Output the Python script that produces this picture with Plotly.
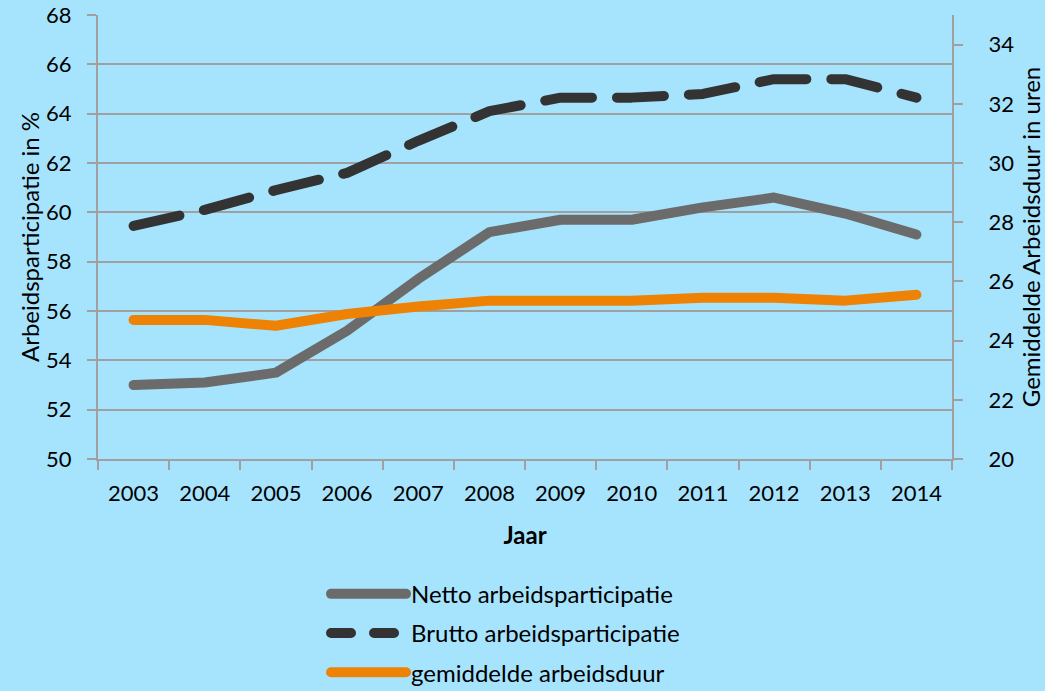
import plotly.graph_objects as go

years = ["2003", "2004", "2005", "2006", "2007", "2008", "2009", "2010", "2011", "2012", "2013", "2014"]
netto = [53.0, 53.1, 53.5, 55.2, 57.3, 59.2, 59.7, 59.7, 60.2, 60.6, 59.95, 59.1]
brutto = [59.45, 60.1, 60.9, 61.6, 62.9, 64.1, 64.65, 64.65, 64.8, 65.4, 65.4, 64.65]
duur = [24.7, 24.7, 24.5, 24.9, 25.15, 25.35, 25.35, 25.35, 25.45, 25.45, 25.35, 25.55]

BG = "#a6e4fe"
GRID = "#a0a0a0"
FONT = "Lato"

fig = go.Figure()
fig.add_trace(go.Scatter(x=years, y=netto, mode="lines", name="Netto arbeidsparticipatie",
                         legendgroup="a", line=dict(color="#6b6b6b", width=10)))
fig.add_trace(go.Scatter(x=years, y=brutto, mode="lines", name="Brutto arbeidsparticipatie",
                         legendgroup="b", line=dict(color="#333333", width=10, dash="47px,25px")))
fig.add_trace(go.Scatter(x=years, y=duur, mode="lines", name="gemiddelde arbeidsduur",
                         legendgroup="c", line=dict(color="#ee8204", width=10), yaxis="y2"))

fig.update_layout(
    width=1045, height=691,
    paper_bgcolor=BG, plot_bgcolor=BG,
    margin=dict(l=98, r=93, t=15, b=232, autoexpand=False),
    font=dict(family=FONT, size=22, color="#000000"),
    showlegend=True,
    legend=dict(orientation="v", x=0.267, xanchor="left", y=-0.531, yanchor="bottom",
                font=dict(size=24), bgcolor="rgba(0,0,0,0)", tracegroupgap=5, itemwidth=75),
    xaxis=dict(type="category", range=[-0.5, 11.5], showgrid=False, showline=True,
               linecolor=GRID, linewidth=2, ticks="outside", ticklen=9, tickcolor=GRID,
               tickwidth=2, tickson="boundaries", tickfont=dict(size=22), ticklabelstandoff=14,
               title=dict(text="<b>Jaar</b>", font=dict(size=24), standoff=22)),
    yaxis=dict(range=[50, 68], dtick=2, showgrid=True, gridcolor=GRID, gridwidth=2,
               showline=True, linecolor=GRID, linewidth=2, ticks="outside", ticklen=9,
               tickcolor=GRID, tickwidth=2, zeroline=False, tickfont=dict(size=22),
               ticklabelstandoff=11,
               title=dict(text="Arbeidsparticipatie in %", font=dict(size=24), standoff=0)),
    yaxis2=dict(range=[20, 35], tickvals=[20, 22, 24, 26, 28, 30, 32, 34], overlaying="y",
                side="right", showgrid=False, showline=True, linecolor=GRID, linewidth=2,
                ticks="outside", ticklen=9, tickcolor=GRID, tickwidth=2, zeroline=False,
                tickfont=dict(size=22), ticklabelstandoff=21,
                title=dict(text="Gemiddelde Arbeidsduur in uren", font=dict(size=24), standoff=16)),
)

post = """
document.body.style.margin='0';
function fixCaps(){
  document.querySelectorAll('.scatterlayer .js-line, .legendlines path').forEach(function(p){
    p.style.strokeLinecap='round'; p.style.strokeLinejoin='round';
  });
  var items = document.querySelectorAll('.legend .traces');
  if (items.length > 1) {
    var lp = items[1].querySelector('.legendlines path');
    if (lp) { lp.style.strokeDasharray = '20px,23px'; }
  }
}
fixCaps(); setTimeout(fixCaps, 100); setTimeout(fixCaps, 500);
"""
fig.write_html("out.html", post_script=post, config={"displayModeBar": False})
